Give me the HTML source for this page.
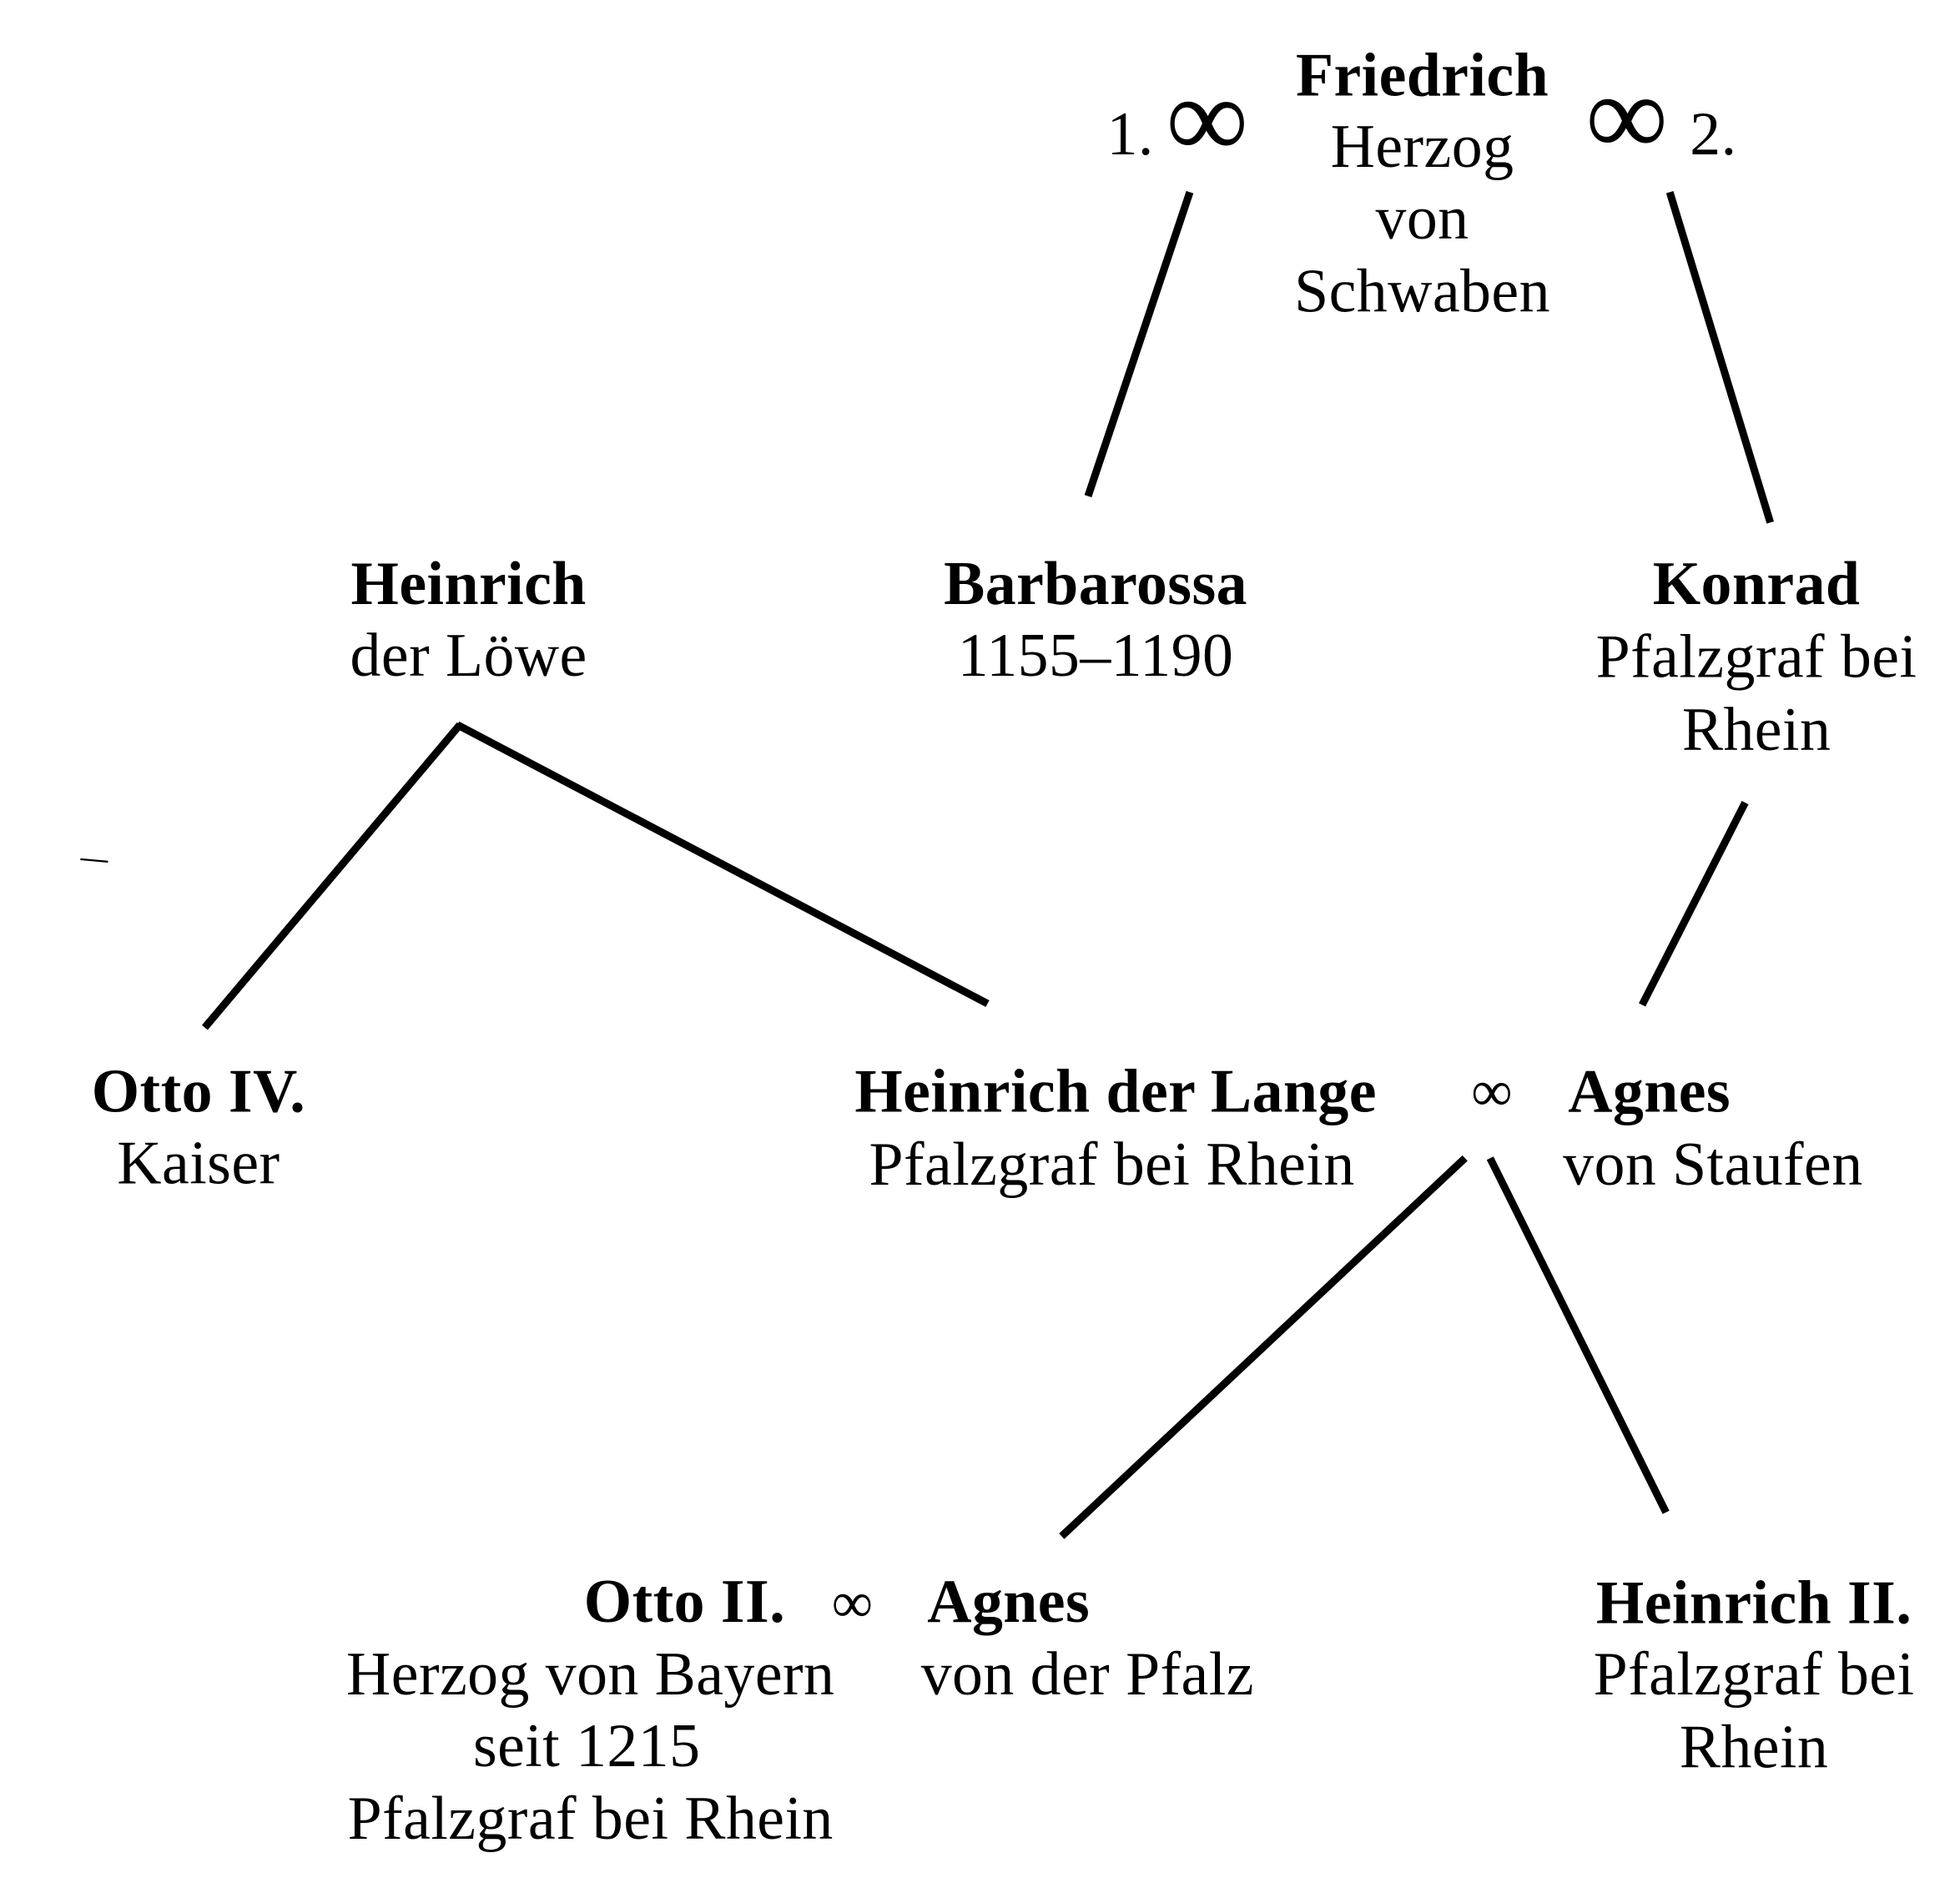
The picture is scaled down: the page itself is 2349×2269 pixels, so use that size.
<!DOCTYPE html>
<html><head><meta charset="utf-8"><style>
html,body{margin:0;padding:0;background:#fff;width:2349px;height:2269px;overflow:hidden}
svg{display:block}
text{font-family:"Liberation Serif","DejaVu Serif",serif;fill:#000;font-size:49px;letter-spacing:0.3px}
.b{font-weight:bold}
</style></head><body>
<svg width="2349" height="2269" viewBox="0 0 1560 1507" preserveAspectRatio="none" xmlns="http://www.w3.org/2000/svg">
<g stroke="#000" stroke-width="6" stroke-linecap="butt">
<line x1="947" y1="153" x2="866" y2="395"/>
<line x1="1329" y1="153" x2="1409" y2="416"/>
<line x1="366" y1="577" x2="163" y2="818"/>
<line x1="364" y1="577" x2="786" y2="799"/>
<line x1="1389" y1="639" x2="1307" y2="800"/>
<line x1="1166" y1="922" x2="845" y2="1223"/>
<line x1="1186" y1="922" x2="1326" y2="1204"/>
</g>
<line x1="64" y1="684" x2="86" y2="686" stroke="#000" stroke-width="1.5"/>
<g text-anchor="middle">
<text class="b" x="1132" y="76">Friedrich</text>
<text x="1132" y="133">Herzog</text>
<text x="1132" y="190">von</text>
<text x="1132" y="248">Schwaben</text>
<text class="b" x="373" y="481">Heinrich</text>
<text x="373" y="538">der Löwe</text>
<text class="b" x="872" y="481">Barbarossa</text>
<text x="872" y="538">1155–1190</text>
<text class="b" x="1398" y="481">Konrad</text>
<text x="1398" y="539">Pfalzgraf bei</text>
<text x="1398" y="597">Rhein</text>
<text class="b" x="158" y="885">Otto IV.</text>
<text x="158" y="942">Kaiser</text>
<text class="b" x="888" y="885">Heinrich der Lange</text>
<text x="885" y="943">Pfalzgraf bei Rhein</text>
<text x="470" y="1349">Herzog von Bayern</text>
<text x="467" y="1406">seit 1215</text>
<text x="470" y="1464">Pfalzgraf bei Rhein</text>
<text class="b" x="1396" y="1292">Heinrich II.</text>
<text x="1396" y="1349">Pfalzgraf bei</text>
<text x="1396" y="1407">Rhein</text>
</g>
<text x="881" y="123">1.</text>
<text x="928" y="125" style="font-size:92px">∞</text>
<text x="1262" y="123" style="font-size:92px">∞</text>
<text x="1345" y="123">2.</text>
<text x="1171" y="884" style="font-size:46px">∞</text>
<text class="b" x="1248" y="885">Agnes</text>
<text x="1244" y="943">von Staufen</text>
<text class="b" x="625" y="1291" text-anchor="end">Otto II.</text>
<text x="662" y="1291" style="font-size:46px">∞</text>
<text class="b" x="738" y="1291">Agnes</text>
<text x="733" y="1349">von der Pfalz</text>
</svg>
</body></html>
